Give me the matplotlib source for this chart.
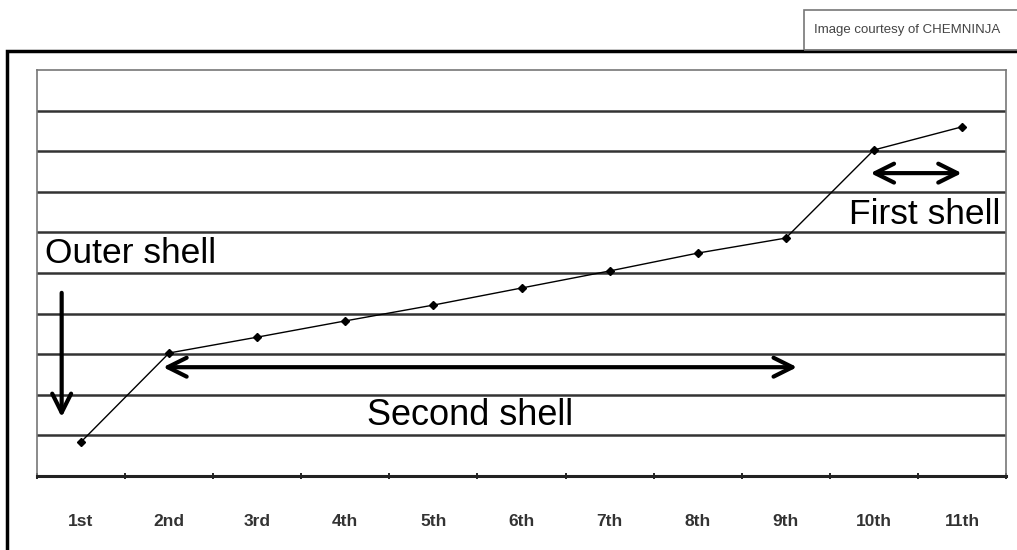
import matplotlib
matplotlib.use('Agg')
import matplotlib.pyplot as plt
from matplotlib.patches import Rectangle
import numpy as np

plt.rcParams['font.family'] = ['Liberation Sans', 'DejaVu Sans']

electrons = ['1st', '2nd', '3rd', '4th', '5th', '6th', '7th', '8th', '9th', '10th', '11th']
log_ie = [0.84, 3.03, 3.42, 3.82, 4.21, 4.63, 5.05, 5.49, 5.86, 8.03, 8.6]


def main():
    fig = plt.figure(figsize=(10.17, 5.5), dpi=100)

    # outer frame and caption box
    fig.patches.append(Rectangle((7 / 1017, -0.05), 1.1, (500 + 27) / 550,
                                 transform=fig.transFigure, fill=False,
                                 ec='black', lw=2.5))
    fig.patches.append(Rectangle((804 / 1017, 500 / 550), 0.3, 40 / 550,
                                 transform=fig.transFigure, fill=False,
                                 ec='#777777', lw=1.2))
    fig.text(814 / 1017, 520 / 550, 'Image courtesy of CHEMNINJA',
             fontsize=9.5, color='#444444', va='center')

    ax = fig.add_axes([37 / 1017, 74 / 550, 969 / 1017, 406 / 550])
    x = np.arange(len(electrons))

    for yv in range(1, 10):
        ax.axhline(yv, color='#333333', lw=1.8, zorder=1)

    ax.plot(x, log_ie, color='black', lw=1, marker='D', ms=4.5, zorder=3)

    ax.set_xlim(-0.5, len(electrons) - 0.5)
    ax.set_ylim(0, 10)
    ax.set_yticks([])
    ax.set_xticks(x)
    ax.set_xticklabels(electrons, fontsize=12.5, color='#333333', fontweight='bold')
    ax.tick_params(axis='x', length=0, pad=27)
    ax.set_xticks(np.arange(-0.5, len(electrons)), minor=True)
    ax.tick_params(axis='x', which='minor', length=5, direction='inout', width=1.2)

    for side in ['top', 'right', 'left']:
        ax.spines[side].set_color('#777777')
        ax.spines[side].set_linewidth(1.2)
    ax.spines['bottom'].set_color('#222222')
    ax.spines['bottom'].set_linewidth(2.2)

    arrow = dict(arrowstyle='->', lw=3, color='black', mutation_scale=34)
    ax.annotate('', xy=(-0.22, 1.38), xytext=(-0.22, 4.58), arrowprops=arrow)
    ax.annotate('', xy=(8.16, 2.68), xytext=(0.9, 2.68),
                arrowprops=dict(arrow, arrowstyle='<->'))
    ax.annotate('', xy=(10.03, 7.46), xytext=(8.93, 7.46),
                arrowprops=dict(arrow, arrowstyle='<->'))

    ax.text(-0.41, 5.49, 'Outer shell', fontsize=25.5, va='center', ha='left')
    ax.text(4.42, 1.5, 'Second shell', fontsize=26, va='center', ha='center')
    ax.text(9.58, 6.43, 'First shell', fontsize=25.5, va='center', ha='center')

    plt.savefig('out.png', dpi=100)
    plt.close()


if __name__ == "__main__":
    main()
